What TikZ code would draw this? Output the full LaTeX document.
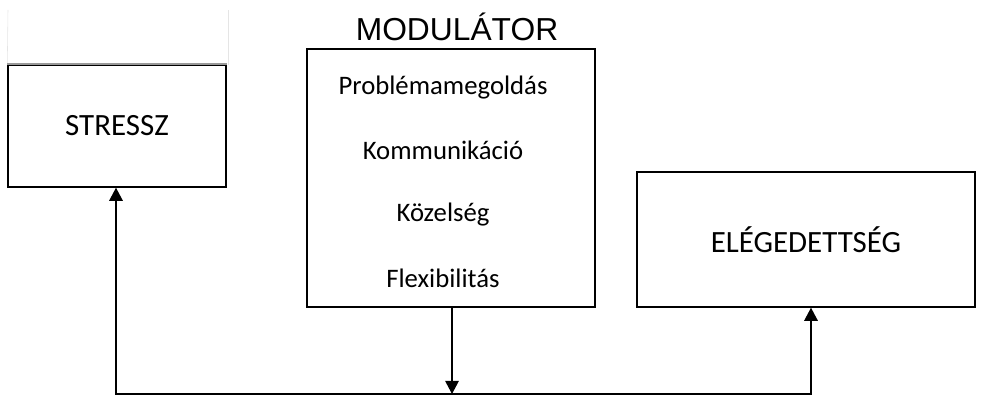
\documentclass[tikz,border=0pt]{standalone}
\usepackage{fontspec}
\setmainfont{Carlito}
\newfontfamily\arialfont{Liberation Sans}
\usepackage{tikz}
\usetikzlibrary{arrows.meta}
\tikzstyle{box}=[draw=black,line width=1pt,inner sep=0mm]
\tikzstyle{big}=[font=\fontsize{22}{26}\selectfont]
\tikzstyle{item}=[font=\fontsize{19}{22}\selectfont,inner sep=0mm]
\tikzstyle{link}=[line width=1pt,>={Triangle[length=3.3mm,width=3.4mm]}]

\begin{document}
\begin{tikzpicture}
      \useasboundingbox (0,0) rectangle (24.575,9.9);
      \node[box,big,minimum width=5.45cm,minimum height=3.05cm] at (2.925,6.75) (stressz) {STRESSZ};
      \node[box,minimum width=7.2cm,minimum height=6.45cm] at (11.275,5.45) (modulator) {};
      \node[box,big,minimum width=8.45cm,minimum height=3.375cm] at (20.15,3.9125) (eleg) {ELÉGEDETTSÉG};
      \node[font=\arialfont\fontsize{22.6}{26}\selectfont] at (11.425,9.225) (title) {MODULÁTOR};
      \node[item] at (11.075,7.7) (probl) {Problémamegoldás};
      \node[item] at (11.075,6.15) (komm) {Kommunikáció};
      \node[item] at (11.075,4.525) (kozel) {Közelség};
      \node[item] at (11.075,2.95) (flex) {Flexibilitás};
      % faint frame above the stress box
      \draw[black!10] (0.2,9.65) -- (stressz.north west);
      \draw[black!10] (5.7,9.65) -- (5.7,8.275);
      \draw[black!40,line width=1.5pt] (stressz.north west) -- (stressz.north east);
      \coordinate (bl) at (2.9,0.05);
      \coordinate (bm) at (11.3,0.05);
      \coordinate (br) at (20.275,0.05);
      \draw[link,<->] (stressz.south -| bl) -- (bl) -- (br) -- (eleg.south -| br);
      \draw[link,->] (modulator.south -| bm) -- (bm);
    \end{tikzpicture}
\end{document}
